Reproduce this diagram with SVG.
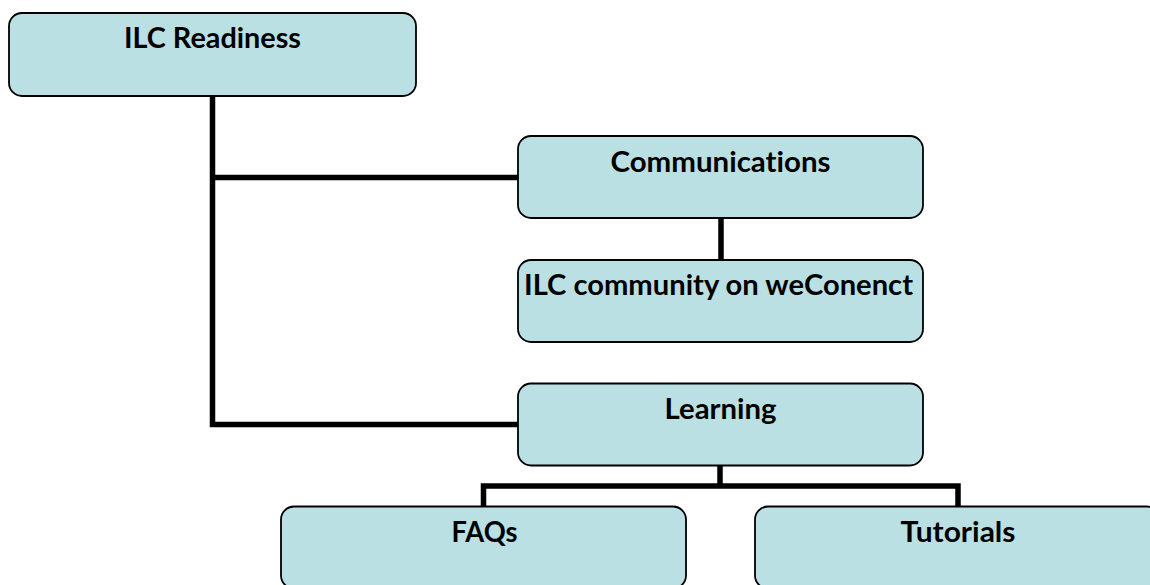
<svg xmlns="http://www.w3.org/2000/svg" width="1150" height="585" viewBox="0 0 1150 585">
<style>
.box{fill:#BAE0E3;stroke:#000;stroke-width:1.8}
.lbl{font-family:Lato,"Open Sans","Liberation Sans",sans-serif;font-weight:bold;font-size:29px;fill:#000;text-anchor:middle;font-variant-ligatures:none;font-feature-settings:"liga" 0}
.con{fill:none;stroke:#000;stroke-width:5.5;stroke-linejoin:miter;stroke-linecap:butt}
</style>
<rect width="1150" height="585" fill="#fff"/>
<g id="connectors">
<path class="con" d="M212.5 96 V424.5 H518"/>
<path class="con" d="M212.5 177.5 H518"/>
<path class="con" d="M721 218 V260"/>
<path class="con" d="M720 465 V486 M483.5 506.5 V486 H958 V506.5"/>
</g>
<g id="ilc-readiness">
<rect class="box" x="9" y="13" width="407" height="83" rx="13"/>
<text class="lbl" x="212.5" y="48" textLength="177" lengthAdjust="spacingAndGlyphs">ILC Readiness</text>
</g>
<g id="communications">
<rect class="box" x="518" y="136" width="405" height="82" rx="13"/>
<text class="lbl" x="720.5" y="171.5" textLength="220" lengthAdjust="spacingAndGlyphs">Communications</text>
</g>
<g id="ilc-community">
<rect class="box" x="518" y="260" width="405" height="82" rx="13"/>
<text class="lbl" x="718.5" y="295" textLength="389" lengthAdjust="spacingAndGlyphs">ILC community on weConenct</text>
</g>
<g id="learning">
<rect class="box" x="518" y="383.5" width="405" height="82" rx="13"/>
<text class="lbl" x="720.5" y="419" textLength="112" lengthAdjust="spacingAndGlyphs">Learning</text>
</g>
<g id="faqs">
<rect class="box" x="281" y="506.5" width="405" height="82" rx="13"/>
<text class="lbl" x="484.5" y="541.5" textLength="66" lengthAdjust="spacingAndGlyphs">FAQs</text>
</g>
<g id="tutorials">
<rect class="box" x="755" y="506.5" width="405" height="82" rx="13"/>
<text class="lbl" x="958" y="541.5" textLength="115" lengthAdjust="spacingAndGlyphs">Tutorials</text>
</g>
</svg>
